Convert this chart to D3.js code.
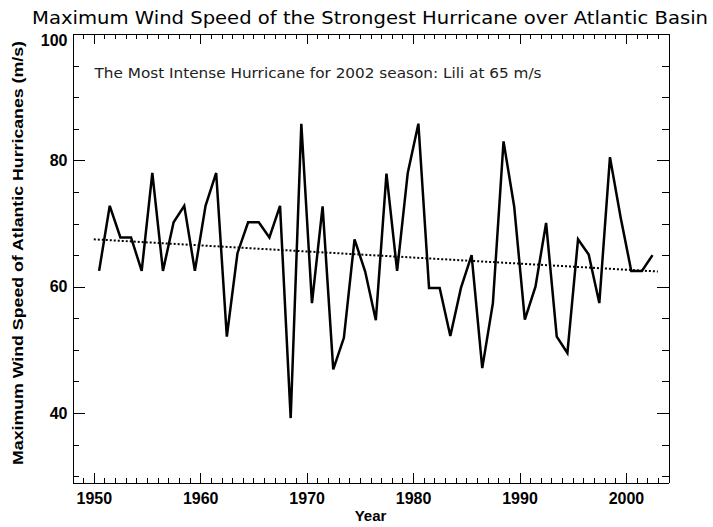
<!DOCTYPE html>
<html>
<head>
<meta charset="utf-8">
<script src="https://cdn.jsdelivr.net/npm/d3@7.9.0/dist/d3.min.js"></script>
<style>
  body { margin: 0; background: #fff; }
  svg { display: block; }
</style>
</head>
<body>
<svg id="chart" width="713" height="527"></svg>
<script>
// yearly maximum wind speed (m/s) of the strongest Atlantic hurricane
const years = [1950, 1951, 1952, 1953, 1954, 1955, 1956, 1957, 1958, 1959,
  1960, 1961, 1962, 1963, 1964, 1965, 1966, 1967, 1968, 1969,
  1970, 1971, 1972, 1973, 1974, 1975, 1976, 1977, 1978, 1979,
  1980, 1981, 1982, 1983, 1984, 1985, 1986, 1987, 1988, 1989,
  1990, 1991, 1992, 1993, 1994, 1995, 1996, 1997, 1998, 1999,
  2000, 2001, 2002];
const maxWind = [62.5, 72.8, 67.8, 67.8, 62.5, 78.0, 62.5, 70.2, 72.8, 62.5,
  72.8, 78.0, 52.1, 65.3, 70.2, 70.2, 67.8, 72.8, 39.2, 85.8,
  57.4, 72.7, 46.9, 51.9, 67.5, 62.4, 54.7, 77.9, 62.5, 78.0,
  85.8, 59.8, 59.8, 52.2, 59.8, 65.0, 47.1, 57.4, 83.0, 72.7,
  54.8, 60.0, 70.1, 52.1, 49.5, 67.5, 65.1, 57.4, 80.5, 71.0,
  62.5, 62.5, 65.0];

// linear trend end points
const trendYears = [1950, 2003];
const trendValues = [67.5, 62.4];

// ticks
const xMajorTicks = [1950, 1960, 1970, 1980, 1990, 2000];
const xMinorTicks = d3.range(1948, 2005);
const yMajorTicks = [40, 60, 80, 100];
const yMinorTicks = d3.range(30, 101, 5);

const titleText = 'Maximum Wind Speed of the Strongest Hurricane over Atlantic Basin';
const noteText = 'The Most Intense Hurricane for 2002 season: Lili at 65 m/s';
const xTitle = 'Year';
const yTitle = 'Maximum Wind Speed of Atlantic Hurricanes (m/s)';

const svg = d3.select('#chart');
const plotLeft = 72.5, plotTop = 34, plotRight = 668.5, plotBottom = 482.5;

const x = d3.scaleLinear().domain([1948, 2004]).range([plotLeft, plotRight]);
const y = d3.scaleLinear().domain([29, 100]).range([plotBottom, plotTop]);

const tickFont = '"Liberation Sans", Arial, sans-serif';

// style an axis group
function styleAxis(g, showDomain) {
  g.attr('font-family', tickFont).attr('font-size', 16).attr('font-weight', 'bold');
  g.selectAll('line').attr('stroke', '#000').attr('shape-rendering', 'crispEdges');
  if (showDomain) {
    g.select('.domain').attr('stroke', '#000').attr('shape-rendering', 'crispEdges');
  } else {
    g.select('.domain').remove();
  }
  g.selectAll('text').attr('fill', '#000');
}

// minor ticks
svg.append('g').attr('transform', `translate(0,${plotBottom})`)
  .call(d3.axisBottom(x).tickValues(xMinorTicks).tickSize(-5).tickFormat(''))
  .call(g => styleAxis(g, false));
svg.append('g').attr('transform', `translate(0,${plotTop})`)
  .call(d3.axisTop(x).tickValues(xMinorTicks).tickSize(-5).tickFormat(''))
  .call(g => styleAxis(g, false));
svg.append('g').attr('transform', `translate(${plotLeft},0)`)
  .call(d3.axisLeft(y).tickValues(yMinorTicks).tickSize(-6.5).tickFormat(''))
  .call(g => styleAxis(g, false));
svg.append('g').attr('transform', `translate(${plotRight},0)`)
  .call(d3.axisRight(y).tickValues(yMinorTicks).tickSize(-6.5).tickFormat(''))
  .call(g => styleAxis(g, false));

// major ticks, labels and frame
svg.append('g').attr('transform', `translate(0,${plotBottom})`)
  .call(d3.axisBottom(x).tickValues(xMajorTicks).tickSize(-10).tickSizeOuter(0).tickPadding(10).tickFormat(d3.format('d')))
  .call(g => styleAxis(g, true));
svg.append('g').attr('transform', `translate(0,${plotTop})`)
  .call(d3.axisTop(x).tickValues(xMajorTicks).tickSize(-10).tickSizeOuter(0).tickFormat(''))
  .call(g => styleAxis(g, true));
svg.append('g').attr('transform', `translate(${plotLeft},0)`)
  .call(d3.axisLeft(y).tickValues(yMajorTicks).tickSize(-12).tickSizeOuter(0).tickPadding(5).tickFormat(d3.format('d')))
  .call(g => styleAxis(g, true))
  // top label sits just below the frame corner, as in the original
  .call(g => g.selectAll('text').filter(d => d === 100).attr('dy', '0.7em'));
svg.append('g').attr('transform', `translate(${plotRight},0)`)
  .call(d3.axisRight(y).tickValues(yMajorTicks).tickSize(-12).tickSizeOuter(0).tickFormat(''))
  .call(g => styleAxis(g, true));

// trend line (dotted)
svg.append('path')
  .datum(trendYears.map((yr, i) => ({ yr, v: trendValues[i] })))
  .attr('fill', 'none')
  .attr('stroke', '#000')
  .attr('stroke-width', 2)
  .attr('stroke-dasharray', '2,2')
  .attr('d', d3.line().x(d => x(d.yr)).y(d => y(d.v)));

// yearly series, plotted at mid-year
svg.append('path')
  .datum(years.map((yr, i) => ({ yr, v: maxWind[i] })))
  .attr('fill', 'none')
  .attr('stroke', '#000')
  .attr('stroke-width', 2.5)
  .attr('stroke-linejoin', 'miter')
  .attr('d', d3.line().x(d => x(d.yr + 0.5)).y(d => y(d.v)));

// title
svg.append('text')
  .attr('x', 32).attr('y', 24)
  .attr('font-family', '"DejaVu Sans", sans-serif')
  .attr('font-size', 17.5)
  .attr('textLength', 676)
  .attr('lengthAdjust', 'spacingAndGlyphs')
  .attr('fill', '#000')
  .text(titleText);

// annotation
svg.append('text')
  .attr('x', 94.5).attr('y', 77.5)
  .attr('font-family', '"DejaVu Sans", sans-serif')
  .attr('font-size', 13.5)
  .attr('textLength', 447)
  .attr('lengthAdjust', 'spacingAndGlyphs')
  .attr('fill', '#222')
  .text(noteText);

// axis titles
svg.append('text')
  .attr('x', (plotLeft + plotRight) / 2).attr('y', 521)
  .attr('text-anchor', 'middle')
  .attr('font-family', tickFont)
  .attr('font-size', 15)
  .attr('font-weight', 'bold')
  .text(xTitle);

svg.append('text')
  .attr('transform', 'translate(22.5,253) rotate(-90)')
  .attr('text-anchor', 'middle')
  .attr('font-family', tickFont)
  .attr('font-size', 15)
  .attr('font-weight', 'bold')
  .attr('textLength', 424)
  .attr('lengthAdjust', 'spacingAndGlyphs')
  .text(yTitle);
</script>
</body>
</html>
